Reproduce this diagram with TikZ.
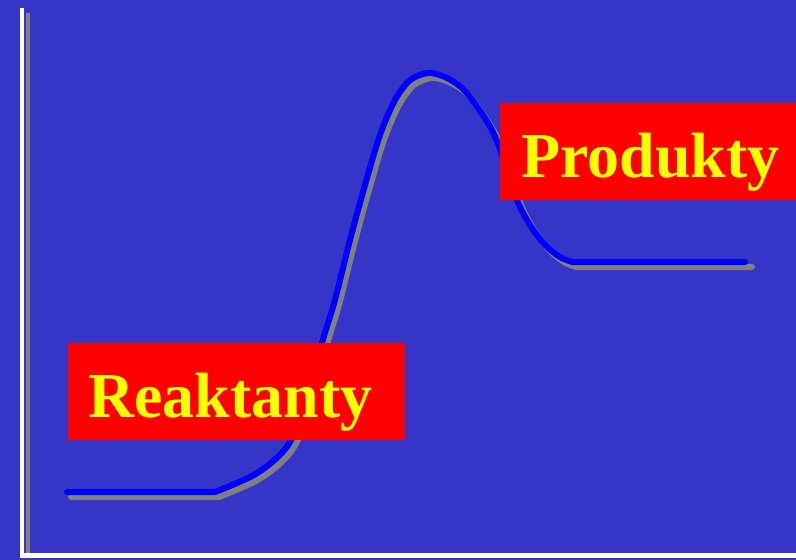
\documentclass[tikz,border=0pt]{standalone}
\usepackage{fontspec}
\setmainfont{Liberation Serif}
\definecolor{bgblue}{HTML}{3535C8}
\definecolor{shadowgray}{HTML}{808080}
\definecolor{curveblue}{HTML}{0000FF}
\definecolor{labelred}{HTML}{FF0000}
\definecolor{labelyellow}{HTML}{FFFF00}
\tikzset{
  curvestyle/.style={line width=6pt, line cap=round, line join=round},
  axisstyle/.style={line width=4.5pt},
  labelbox/.style={fill=labelred, inner sep=0pt, anchor=north west},
  labeltext/.style={text=labelyellow, font=\fontsize{64}{70}\selectfont\bfseries, anchor=base west, inner sep=0pt},
}
\begin{document}
\begin{tikzpicture}[x=1pt,y=-1pt]
\useasboundingbox[fill=bgblue] (0,0) rectangle (796,560);
% axis shadows
\coordinate (ytopS) at (28,13);
\coordinate (ybotS) at (28,553);
\draw[axisstyle, shadowgray] (ytopS) -- (ybotS);
% axes
\coordinate (ytop) at (22,8);
\coordinate (origin) at (22,555.5);
\coordinate (xend) at (796,555.5);
\draw[axisstyle, white] (ytop) -- (origin) -- (xend);
% curve shadow
\begin{scope}[shift={(4,5)}]
\draw[curvestyle, shadowgray] plot[smooth, tension=0.5] coordinates {(67,492) (215,492)}
  -- plot[smooth, tension=0.5] coordinates {(215,492) (250,477) (272,462) (290,442) (308,400) (322,343) (335,300) (350,240) (365,185) (380,135) (395,100) (410,80) (428,73) (445,77) (462,88) (478,108) (492,130) (504,160) (517,200) (530,225) (545,245) (560,257) (572,262)}
  -- (748,262);
\end{scope}
% curve
\draw[curvestyle, curveblue] plot[smooth, tension=0.5] coordinates {(67,492) (215,492)}
  -- plot[smooth, tension=0.5] coordinates {(215,492) (250,477) (272,462) (290,442) (308,400) (322,343) (335,300) (350,240) (365,185) (380,135) (395,100) (410,80) (428,73) (445,77) (462,88) (478,108) (492,130) (504,160) (517,200) (530,225) (545,245) (560,257) (572,262)}
  -- (745,262);
% labels
\node[labelbox, minimum width=337pt, minimum height=97pt] (reakt) at (68,343) {};
\node[labeltext] (reakttext) at (88,417) {Reaktanty};
\node[labelbox, minimum width=296pt, minimum height=97pt] (prod) at (500,103) {};
\node[labeltext] (prodtext) at (521,177) {Produkty};
\end{tikzpicture}
\end{document}
